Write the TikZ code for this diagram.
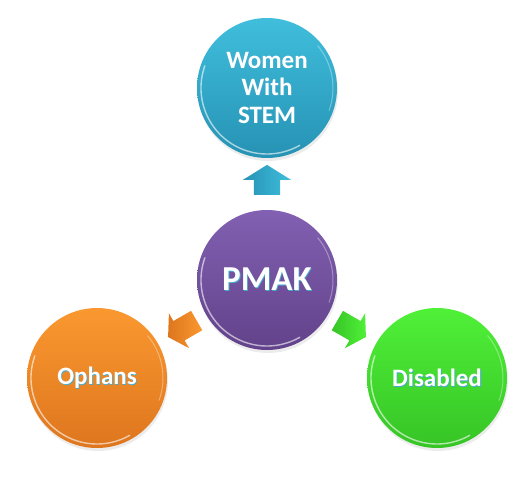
\documentclass[tikz,border=0pt]{standalone}
\usepackage{fontspec}
\setmainfont{Carlito}
\usetikzlibrary{shapes.arrows,shadows,calc}

\definecolor{stemtop}{RGB}{64,190,220}
\definecolor{stembot}{RGB}{38,146,180}
\definecolor{pmaktop}{RGB}{130,96,178}
\definecolor{pmakbot}{RGB}{98,66,138}
\definecolor{ophtop}{RGB}{250,152,48}
\definecolor{ophbot}{RGB}{222,118,30}
\definecolor{distop}{RGB}{80,240,56}
\definecolor{disbot}{RGB}{54,196,38}
\definecolor{textshade}{RGB}{70,170,205}

\newcommand{\glowtext}[1]{\makebox[0pt][l]{\hspace{0.8pt}\raisebox{-0.8pt}{\color{textshade}#1}}#1}

\begin{document}
\begin{tikzpicture}[
  x=1pt, y=1pt,
  bubble/.style={circle, minimum size=140pt, inner sep=0pt, text=white,
    align=center, font=\bfseries\fontsize{25}{27.5}\selectfont,
    drop shadow={opacity=0.15, shadow xshift=1pt, shadow yshift=-3pt},
    path picture={
      \draw[white, opacity=0.6, line width=1.4pt]
        ($(path picture bounding box.center)+(160:66)$)
        arc[start angle=160, end angle=300, radius=66];
      \draw[white, opacity=0.35, line width=1pt]
        ($(path picture bounding box.center)+(-20:66)$)
        arc[start angle=-20, end angle=40, radius=66];
    }},
  arrowbox/.style={single arrow, single arrow tip angle=116, inner xsep=0pt,
    inner ysep=13pt, single arrow head extend=11pt, minimum height=30pt},
  sidearrow/.style={arrowbox, inner ysep=11pt, single arrow head extend=9pt,
    minimum height=33pt}
]
\useasboundingbox (0,0) rectangle (521,477);

\node[bubble, top color=pmaktop, bottom color=pmakbot,
  font=\bfseries\fontsize{35}{40}\selectfont] (pmak) at (267,197) {\glowtext{PMAK}};
\node[bubble, top color=stemtop, bottom color=stembot] (stem) at (267,389)
  {\glowtext{Women}\\\glowtext{With}\\\glowtext{STEM}};
\node[bubble, top color=ophtop, bottom color=ophbot] (ophans) at (97,99) {\glowtext{Ophans}};
\node[bubble, top color=distop, bottom color=disbot] (disabled) at (437,99) {\glowtext{Disabled}};

% arrows out of the centre
\node[arrowbox, rotate=90, left color=stembot, right color=stemtop] (toStem)
  at ($(pmak)!0.5!(stem)$) {};
\node[sidearrow, rotate=210, left color=ophbot, right color=ophtop] (toOphans)
  at ($(pmak)!0.48!(ophans)$) {};
\node[sidearrow, rotate=-30, left color=disbot, right color=distop] (toDisabled)
  at ($(pmak)!0.48!(disabled)$) {};
\end{tikzpicture}
\end{document}
